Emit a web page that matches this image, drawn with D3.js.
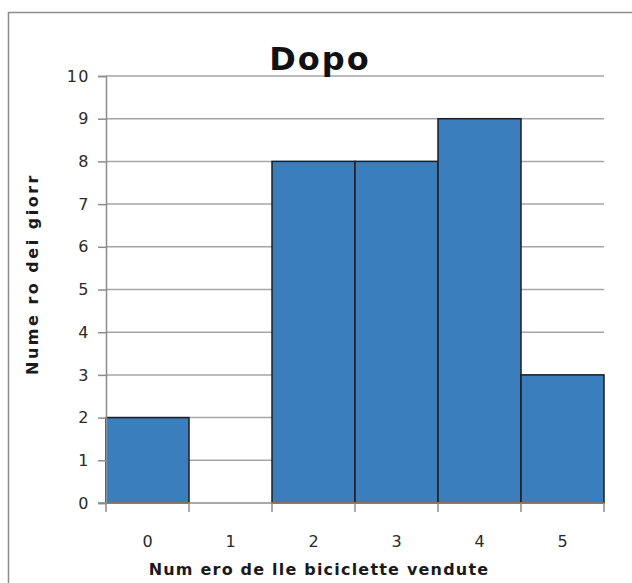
<!DOCTYPE html>
<html>
<head>
<meta charset="utf-8">
<script src="https://cdn.jsdelivr.net/npm/d3@7"></script>
<style>
  body { margin: 0; background: #fff; }
  text { font-family: "DejaVu Sans", sans-serif; }
</style>
</head>
<body>
<div id="chart"></div>
<script>
// Data
var categories = ['0', '1', '2', '3', '4', '5'],
    giorni = [2, 0, 8, 8, 9, 3],
    yTicks = [0, 1, 2, 3, 4, 5, 6, 7, 8, 9, 10];

var width = 632,
    height = 583,
    // plot area in pixels
    plotLeft = 106,
    plotRight = 604,
    plotTop = 76,
    plotBottom = 503;

var svg = d3.select('#chart').append('svg')
    .attr('width', width)
    .attr('height', height);

// outer frame
svg.append('rect')
    .attr('x', 8.5).attr('y', 12.5)
    .attr('width', 640).attr('height', 600)
    .attr('fill', '#fff')
    .attr('stroke', '#8c8c8c')
    .attr('stroke-width', 1.5);

var x = d3.scaleBand().domain(categories).range([plotLeft, plotRight]).padding(0);
var y = d3.scaleLinear().domain([0, 10]).range([plotBottom, plotTop]);

// gridlines
svg.append('g').selectAll('line').data(yTicks.slice(1)).enter()
    .append('line')
    .attr('x1', plotLeft).attr('x2', plotRight)
    .attr('y1', function(d) { return y(d); })
    .attr('y2', function(d) { return y(d); })
    .attr('stroke', '#a6a6a6')
    .attr('stroke-width', 1.5);

// bars
svg.append('g').selectAll('rect').data(categories).enter()
    .append('rect')
    .attr('x', function(d) { return x(d); })
    .attr('y', function(d, i) { return y(giorni[i]); })
    .attr('width', x.bandwidth())
    .attr('height', function(d, i) { return y(0) - y(giorni[i]); })
    .attr('fill', function(d, i) { return giorni[i] > 0 ? '#3a7ebd' : 'none'; })
    .attr('stroke', '#1e1e1e')
    .attr('stroke-width', function(d, i) { return giorni[i] > 0 ? 1.5 : 0; });

// y axis
var yAxis = svg.append('g')
    .attr('transform', 'translate(' + plotLeft + ',0)')
    .call(d3.axisLeft(y).tickValues(yTicks).tickSize(8).tickPadding(8));
yAxis.select('.domain').attr('stroke', '#8c8c8c').attr('stroke-width', 1.5);
yAxis.selectAll('.tick line').attr('stroke', '#8c8c8c').attr('stroke-width', 1.5);
yAxis.selectAll('.tick text')
    .style('font-size', '16px')
    .style('font-family', '"DejaVu Sans", sans-serif')
    .attr('fill', '#2a2a2a')
    .style('letter-spacing', '1.5px');

// x axis: ticks sit on the bin boundaries
var edges = categories.map(function(d) { return x(d); }).concat([plotRight]);
var xg = svg.append('g');
xg.append('line')
    .attr('x1', plotLeft - 8).attr('x2', plotRight)
    .attr('y1', plotBottom).attr('y2', plotBottom)
    .attr('stroke', '#8c8c8c').attr('stroke-width', 1.5);
xg.selectAll('line.tk').data(edges).enter()
    .append('line').attr('class', 'tk')
    .attr('x1', function(d) { return d; }).attr('x2', function(d) { return d; })
    .attr('y1', plotBottom).attr('y2', plotBottom + 9)
    .attr('stroke', '#8c8c8c').attr('stroke-width', 1.5);
xg.selectAll('text').data(categories).enter()
    .append('text')
    .attr('x', function(d) { return x(d) + x.bandwidth() / 2; })
    .attr('y', plotBottom + 44)
    .attr('text-anchor', 'middle')
    .style('font-size', '16px')
    .attr('fill', '#2a2a2a')
    .text(function(d) { return d; });

// title
svg.append('text')
    .attr('x', 320).attr('y', 70)
    .attr('text-anchor', 'middle')
    .style('font-size', '32px')
    .attr('font-weight', 'bold')
    .attr('fill', '#111')
    .style('letter-spacing', '2px')
    .text('Dopo');

// axis titles
svg.append('text')
    .attr('x', 319).attr('y', 575)
    .attr('text-anchor', 'middle')
    .style('font-size', '16px')
    .attr('font-weight', 'bold')
    .attr('fill', '#1a1a1a')
    .style('letter-spacing', '1.2px')
    .text('Num ero de lle biciclette vendute');

svg.append('text')
    .attr('transform', 'translate(38,274) rotate(-90)')
    .attr('text-anchor', 'middle')
    .style('font-size', '16px')
    .attr('font-weight', 'bold')
    .attr('fill', '#1a1a1a')
    .style('letter-spacing', '2.5px')
    .text('Nume ro dei giorr');
</script>
</body>
</html>
